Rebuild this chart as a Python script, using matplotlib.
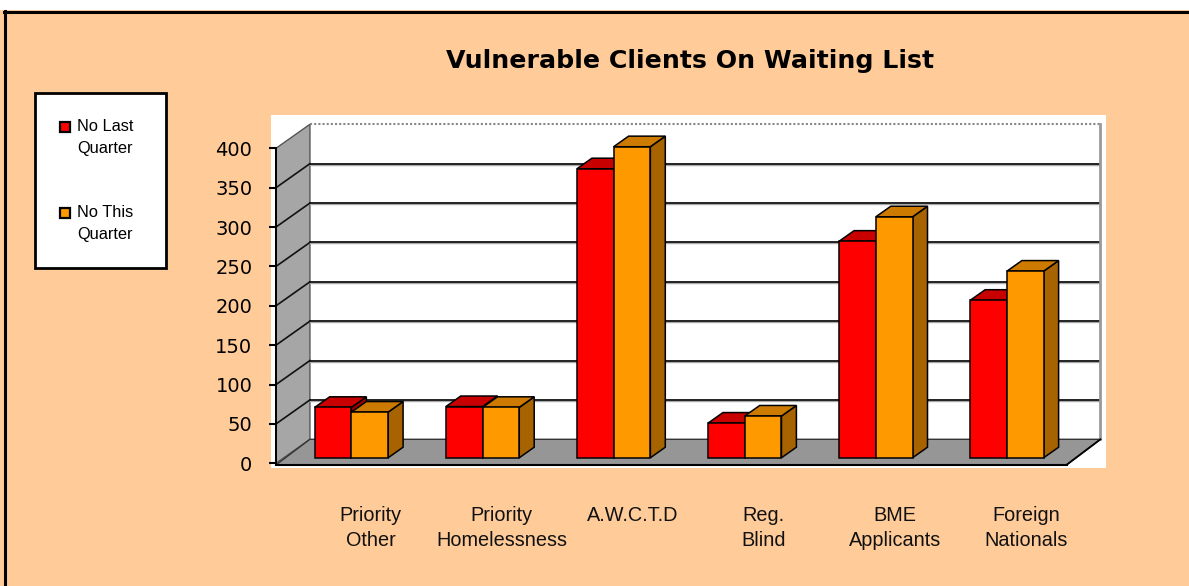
import matplotlib
matplotlib.use('Agg')
import matplotlib.pyplot as plt
from matplotlib.patches import Polygon, Rectangle
from matplotlib.lines import Line2D

categories = ['Priority\nOther', 'Priority\nHomelessness', 'A.W.C.T.D',
              'Reg.\nBlind', 'BME\nApplicants', 'Foreign\nNationals']
series_names = ['No Last\nQuarter', 'No This\nQuarter']
last_quarter = [64, 65, 367, 44, 275, 200]
this_quarter = [58, 64, 395, 53, 306, 237]
y_ticks = [0, 50, 100, 150, 200, 250, 300, 350, 400]

W, H = 1189, 586
BG = '#FFCC99'
front_cols = ['#FF0000', '#FF9900']
top_cols = ['#C80000', '#CC7A00']
side_cols = ['#9E0000', '#A66300']

# oblique depth of the whole box, in data units (category / value)
DX, DY = 0.259, 30.5
d0, d1 = 0.23, 0.67      # bar front / back as fraction of depth
bw = 0.28
xr = len(categories) + 0.03
ymax = y_ticks[-1]

fig = plt.figure(figsize=(W / 100, H / 100), dpi=100, facecolor=BG)

# outer frame
fig.add_artist(Rectangle((0, 1 - 10 / H), 1, 10 / H, transform=fig.transFigure,
                         fc='white', ec='none'))
fig.add_artist(Line2D([4 / W, 1], [1 - 11.5 / H] * 2, transform=fig.transFigure,
                      color='black', lw=2.2))
fig.add_artist(Line2D([5 / W] * 2, [0, 1 - 11 / H], transform=fig.transFigure,
                      color='black', lw=2.2))

ax = fig.add_axes([271 / W, 1 - 468 / H, 835 / W, 353 / H])
ax.set_facecolor('white')
ax.set_xlim(-0.038, 6.331)
ax.set_ylim(-5.97, 442.3)
for s in ['top', 'right', 'bottom']:
    ax.spines[s].set_visible(False)
ax.spines['left'].set_position(('data', 0))
ax.spines['left'].set_bounds(0, ymax)
ax.spines['left'].set_linewidth(1.4)
ax.spines['left'].set_zorder(6)
ax.set_xticks([])
ax.set_yticks(y_ticks)
ax.tick_params(axis='y', direction='out', length=5, width=1.5, pad=12,
               labelsize=14)

# left wall and floor
ax.add_patch(Polygon([(0, 0), (DX, DY), (DX, ymax + DY), (0, ymax)],
                     closed=True, fc='#A6A6A6', ec='#555555', lw=1, zorder=1))
ax.add_patch(Polygon([(0, -2), (xr, -2), (xr + DX, DY), (DX, DY)],
                     closed=True, fc='#969696', ec='#333333', lw=1, zorder=1))
ax.plot([0, xr], [-2, -2], color='black', lw=1.5, zorder=2)

# gridlines on wall and back
for v in y_ticks[1:]:
    if v == ymax:
        ax.plot([DX, xr + DX], [v + DY, v + DY], color='#888888', lw=1.5,
                ls=(0, (1, 1)), zorder=2)
        continue
    ax.plot([0, DX], [v, v + DY], color='#111111', lw=1.2, zorder=2)
    ax.plot([DX, xr + DX], [v + DY - 1.3, v + DY - 1.3], color='#aaaaaa',
            lw=1.0, zorder=2)
    ax.plot([DX, xr + DX], [v + DY, v + DY], color='#111111', lw=1.3, zorder=2)
ax.plot([xr + DX, xr + DX], [DY, ymax + DY], color='#999999', lw=2, zorder=2)
ax.plot([xr, xr + DX], [-2, DY], color='black', lw=1.3, zorder=2)

# 3D bars
sx0, sy0 = d0 * DX, d0 * DY
sx1, sy1 = d1 * DX, d1 * DY
for i in range(len(categories)):
    for k, vals in enumerate([last_quarter, this_quarter]):
        v = vals[i]
        x0 = i + 0.236 + k * bw
        z = 3 + k
        ax.add_patch(Polygon([(x0 + bw + sx0, sy0), (x0 + bw + sx1, sy1),
                              (x0 + bw + sx1, v + sy1), (x0 + bw + sx0, v + sy0)],
                             closed=True, fc=side_cols[k], ec='black', lw=1.1,
                             zorder=z))
        ax.add_patch(Polygon([(x0 + sx0, v + sy0), (x0 + bw + sx0, v + sy0),
                              (x0 + bw + sx1, v + sy1), (x0 + sx1, v + sy1)],
                             closed=True, fc=top_cols[k], ec='black', lw=1.1,
                             zorder=z))
        ax.bar(x0 + sx0, v, width=bw, bottom=sy0, align='edge',
               color=front_cols[k], edgecolor='black', lw=1.1, zorder=z)

# category labels
for i, lab in enumerate(categories):
    ax.text(i + 0.72, -54, lab, ha='center', va='top', fontsize=14.3,
            family='Liberation Sans', linespacing=1.42, clip_on=False,
            color='#111111')

# title
fig.text(690 / W, 1 - 68 / H, 'Vulnerable Clients On Waiting List',
         ha='center', va='baseline', fontsize=18.2, fontweight='bold',
         family='DejaVu Sans')

# legend box
fig.add_artist(Rectangle((35 / W, 1 - 268 / H), 131 / W, 175 / H,
                         transform=fig.transFigure, fc='white', ec='black',
                         lw=2))
for k, name in enumerate(series_names):
    cy = [127, 213][k]
    fig.add_artist(Rectangle(((65 - 5) / W, 1 - (cy + 5) / H), 10 / W, 10 / H,
                             transform=fig.transFigure, fc=front_cols[k],
                             ec='black', lw=1.6))
    fig.text(77 / W, 1 - (cy - 8) / H, name, ha='left', va='top',
             fontsize=11.8, family='Liberation Sans', linespacing=1.55)

fig.savefig('out.png', dpi=100, facecolor=BG)
